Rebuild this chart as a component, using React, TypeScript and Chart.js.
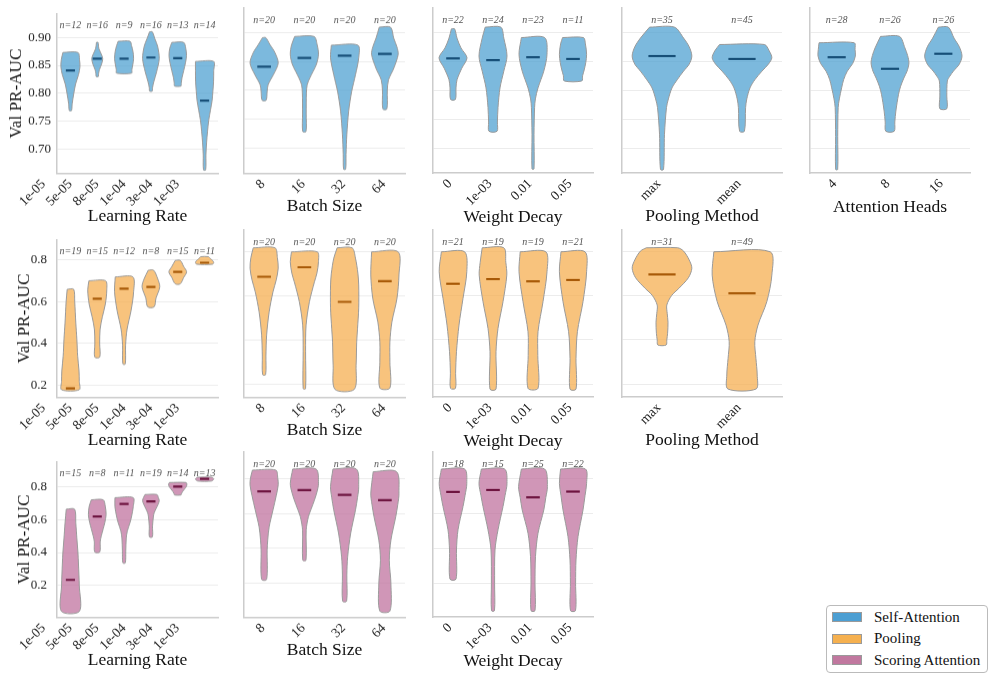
import React, { useEffect, useRef } from "react";
import { Chart, registerables } from "chart.js";
Chart.register(...registerables);

const SERIF = "'Liberation Serif', 'Times New Roman', serif";

// ---------- categories ----------
const LR_CATS = ["1e-05", "5e-05", "8e-05", "1e-04", "3e-04", "1e-03"];
const BS_CATS = ["8", "16", "32", "64"];
const WD_CATS = ["0", "1e-03", "0.01", "0.05"];
const PM_CATS = ["max", "mean"];
const AH_CATS = ["4", "8", "16"];

// ---------- Self-Attention ----------
const SA_LR_N = [12, 16, 9, 16, 13, 14];
const SA_LR_MED = [0.841, 0.862, 0.862, 0.864, 0.863, 0.787];
const SA_LR_SHAPE = [
  [[0.873, 0.28], [0.86, 0.34], [0.847, 0.355], [0.833, 0.3], [0.816, 0.19], [0.798, 0.12], [0.781, 0.065], [0.769, 0.04]],
  [[0.891, 0.03], [0.88, 0.06], [0.87, 0.15], [0.862, 0.205], [0.852, 0.16], [0.842, 0.08], [0.835, 0.05], [0.83, 0.04]],
  [[0.893, 0.22], [0.885, 0.28], [0.875, 0.33], [0.862, 0.355], [0.85, 0.32], [0.842, 0.29], [0.836, 0.28]],
  [[0.91, 0.05], [0.897, 0.15], [0.884, 0.25], [0.862, 0.31], [0.838, 0.21], [0.821, 0.11], [0.81, 0.06], [0.804, 0.05]],
  [[0.891, 0.22], [0.88, 0.3], [0.867, 0.325], [0.855, 0.29], [0.84, 0.22], [0.828, 0.16], [0.818, 0.13], [0.813, 0.12]],
  [[0.857, 0.34], [0.84, 0.34], [0.821, 0.335], [0.804, 0.31], [0.787, 0.28], [0.77, 0.22], [0.752, 0.155], [0.732, 0.11], [0.712, 0.075], [0.69, 0.05], [0.663, 0.04]],
];
const SA_BS_N = [20, 20, 20, 20];
const SA_BS_MED = [0.841, 0.856, 0.86, 0.863];
const SA_BS_SHAPE = [
  [[0.891, 0.04], [0.879, 0.145], [0.865, 0.27], [0.847, 0.35], [0.827, 0.23], [0.81, 0.1], [0.798, 0.075], [0.783, 0.05]],
  [[0.893, 0.24], [0.878, 0.32], [0.862, 0.35], [0.845, 0.3], [0.832, 0.21], [0.822, 0.14], [0.81, 0.07], [0.795, 0.05], [0.76, 0.045], [0.729, 0.04]],
  [[0.878, 0.33], [0.856, 0.35], [0.827, 0.27], [0.798, 0.175], [0.764, 0.1], [0.724, 0.055], [0.69, 0.035], [0.664, 0.025]],
  [[0.909, 0.14], [0.89, 0.22], [0.875, 0.3], [0.862, 0.33], [0.838, 0.22], [0.818, 0.09], [0.8, 0.06], [0.768, 0.05]],
];
const SA_WD_N = [22, 24, 23, 11];
const SA_WD_MED = [0.855, 0.852, 0.857, 0.854];
const SA_WD_SHAPE = [
  [[0.906, 0.04], [0.89, 0.1], [0.873, 0.2], [0.856, 0.35], [0.838, 0.22], [0.818, 0.1], [0.804, 0.075], [0.784, 0.06]],
  [[0.909, 0.195], [0.89, 0.27], [0.859, 0.35], [0.833, 0.27], [0.804, 0.175], [0.77, 0.125], [0.745, 0.11], [0.729, 0.1]],
  [[0.891, 0.29], [0.862, 0.35], [0.833, 0.27], [0.804, 0.125], [0.785, 0.06], [0.77, 0.04], [0.724, 0.025], [0.664, 0.025]],
  [[0.891, 0.26], [0.88, 0.31], [0.862, 0.34], [0.848, 0.32], [0.835, 0.28], [0.825, 0.24], [0.816, 0.22]],
];
const SA_PM_N = [35, 45];
const SA_PM_MED = [0.859, 0.854];
const SA_PM_SHAPE = [
  [[0.909, 0.155], [0.89, 0.27], [0.875, 0.34], [0.859, 0.373], [0.845, 0.34], [0.833, 0.27], [0.818, 0.19], [0.804, 0.125], [0.785, 0.08], [0.77, 0.056], [0.724, 0.031], [0.663, 0.019]],
  [[0.879, 0.28], [0.868, 0.34], [0.856, 0.373], [0.845, 0.33], [0.833, 0.25], [0.818, 0.16], [0.804, 0.1], [0.785, 0.06], [0.77, 0.045], [0.729, 0.03]],
];
const SA_AH_N = [28, 26, 26];
const SA_AH_MED = [0.857, 0.837, 0.863];
const SA_AH_SHAPE = [
  [[0.882, 0.33], [0.87, 0.345], [0.859, 0.35], [0.846, 0.3], [0.833, 0.2], [0.818, 0.13], [0.804, 0.093], [0.785, 0.05], [0.77, 0.028], [0.72, 0.02], [0.663, 0.019]],
  [[0.893, 0.177], [0.873, 0.28], [0.86, 0.33], [0.847, 0.355], [0.833, 0.32], [0.821, 0.26], [0.807, 0.2], [0.793, 0.16], [0.764, 0.11], [0.745, 0.09], [0.729, 0.078]],
  [[0.909, 0.093], [0.89, 0.2], [0.875, 0.3], [0.859, 0.35], [0.845, 0.3], [0.833, 0.19], [0.824, 0.12], [0.816, 0.075], [0.79, 0.065], [0.768, 0.065]],
];

// ---------- Pooling ----------
const P_LR_N = [19, 15, 12, 8, 15, 11];
const P_LR_MED = [0.186, 0.614, 0.662, 0.67, 0.742, 0.786];
const P_LR_SHAPE = [
  [[0.659, 0.12], [0.6, 0.16], [0.5, 0.2], [0.42, 0.24], [0.34, 0.27], [0.27, 0.32], [0.22, 0.33], [0.179, 0.33]],
  [[0.7, 0.31], [0.655, 0.355], [0.587, 0.3], [0.527, 0.19], [0.467, 0.105], [0.4, 0.09], [0.335, 0.093]],
  [[0.718, 0.33], [0.647, 0.355], [0.557, 0.26], [0.467, 0.11], [0.392, 0.056], [0.302, 0.045]],
  [[0.75, 0.1], [0.707, 0.26], [0.67, 0.33], [0.617, 0.19], [0.575, 0.12]],
  [[0.797, 0.093], [0.768, 0.22], [0.742, 0.33], [0.715, 0.22], [0.685, 0.093]],
  [[0.815, 0.14], [0.805, 0.22], [0.795, 0.31], [0.787, 0.34], [0.779, 0.3]],
];
const P_BS_N = [20, 20, 20, 20];
const P_BS_MED = [0.685, 0.728, 0.572, 0.665];
const P_BS_SHAPE = [
  [[0.815, 0.27], [0.77, 0.33], [0.723, 0.35], [0.67, 0.3], [0.617, 0.22], [0.527, 0.125], [0.422, 0.062], [0.33, 0.045], [0.245, 0.037]],
  [[0.797, 0.32], [0.752, 0.35], [0.7, 0.31], [0.662, 0.25], [0.572, 0.125], [0.467, 0.042], [0.35, 0.03], [0.182, 0.03]],
  [[0.815, 0.186], [0.768, 0.27], [0.7, 0.33], [0.647, 0.35], [0.544, 0.35], [0.45, 0.32], [0.392, 0.3], [0.287, 0.285], [0.179, 0.24]],
  [[0.797, 0.33], [0.692, 0.35], [0.587, 0.3], [0.482, 0.175], [0.392, 0.125], [0.3, 0.125], [0.185, 0.125]],
];
const P_WD_N = [21, 19, 19, 21];
const P_WD_MED = [0.653, 0.674, 0.664, 0.67];
const P_WD_SHAPE = [
  [[0.797, 0.29], [0.707, 0.345], [0.587, 0.25], [0.467, 0.15], [0.347, 0.087], [0.25, 0.065], [0.182, 0.062]],
  [[0.815, 0.27], [0.75, 0.32], [0.692, 0.345], [0.572, 0.25], [0.452, 0.125], [0.347, 0.075], [0.178, 0.075]],
  [[0.797, 0.32], [0.707, 0.35], [0.572, 0.25], [0.437, 0.125], [0.33, 0.12], [0.182, 0.125]],
  [[0.797, 0.3], [0.707, 0.34], [0.572, 0.25], [0.437, 0.11], [0.317, 0.075], [0.178, 0.075]],
];
const P_PM_N = [31, 49];
const P_PM_MED = [0.695, 0.61];
const P_PM_SHAPE = [
  [[0.815, 0.196], [0.8, 0.27], [0.76, 0.34], [0.723, 0.373], [0.68, 0.33], [0.632, 0.21], [0.6, 0.12], [0.557, 0.06], [0.52, 0.065], [0.48, 0.075], [0.43, 0.07], [0.4, 0.06], [0.377, 0.052]],
  [[0.797, 0.352], [0.692, 0.373], [0.572, 0.31], [0.467, 0.2], [0.392, 0.16], [0.317, 0.174], [0.242, 0.19], [0.179, 0.176]],
];

// ---------- Scoring Attention ----------
const S_LR_N = [15, 8, 11, 19, 14, 13];
const S_LR_MED = [0.234, 0.619, 0.695, 0.71, 0.8, 0.848];
const S_LR_SHAPE = [
  [[0.663, 0.155], [0.58, 0.2], [0.486, 0.24], [0.4, 0.28], [0.333, 0.3], [0.2, 0.33], [0.043, 0.335]],
  [[0.72, 0.22], [0.68, 0.3], [0.629, 0.33], [0.58, 0.28], [0.543, 0.22], [0.5, 0.15], [0.466, 0.11], [0.403, 0.093]],
  [[0.733, 0.34], [0.676, 0.34], [0.62, 0.28], [0.581, 0.22], [0.53, 0.12], [0.486, 0.08], [0.409, 0.063], [0.337, 0.045]],
  [[0.752, 0.22], [0.732, 0.28], [0.714, 0.31], [0.69, 0.26], [0.666, 0.19], [0.64, 0.12], [0.619, 0.093], [0.56, 0.06], [0.495, 0.056]],
  [[0.825, 0.31], [0.815, 0.34], [0.8, 0.32], [0.785, 0.25], [0.77, 0.18], [0.758, 0.14], [0.749, 0.12]],
  [[0.857, 0.27], [0.847, 0.34], [0.834, 0.26]],
];
const S_BS_N = [20, 20, 20, 20];
const S_BS_MED = [0.726, 0.733, 0.706, 0.676];
const S_BS_SHAPE = [
  [[0.847, 0.29], [0.8, 0.34], [0.762, 0.35], [0.7, 0.3], [0.619, 0.22], [0.523, 0.125], [0.45, 0.09], [0.39, 0.075], [0.223, 0.062]],
  [[0.853, 0.29], [0.771, 0.35], [0.72, 0.31], [0.676, 0.25], [0.62, 0.16], [0.581, 0.1], [0.505, 0.045], [0.333, 0.04]],
  [[0.853, 0.29], [0.752, 0.35], [0.69, 0.32], [0.619, 0.27], [0.486, 0.15], [0.352, 0.075], [0.25, 0.055], [0.099, 0.05]],
  [[0.838, 0.29], [0.714, 0.35], [0.65, 0.32], [0.581, 0.27], [0.447, 0.15], [0.333, 0.11], [0.2, 0.15], [0.043, 0.125]],
];
const S_WD_N = [18, 15, 25, 22];
const S_WD_MED = [0.722, 0.733, 0.691, 0.724];
const S_WD_SHAPE = [
  [[0.853, 0.29], [0.771, 0.345], [0.7, 0.3], [0.638, 0.25], [0.505, 0.125], [0.39, 0.087], [0.223, 0.075]],
  [[0.853, 0.29], [0.771, 0.35], [0.7, 0.3], [0.638, 0.25], [0.505, 0.125], [0.39, 0.05], [0.2, 0.04], [0.043, 0.037]],
  [[0.853, 0.29], [0.752, 0.36], [0.69, 0.32], [0.619, 0.27], [0.486, 0.125], [0.352, 0.062], [0.2, 0.05], [0.043, 0.05]],
  [[0.853, 0.31], [0.771, 0.34], [0.7, 0.3], [0.619, 0.25], [0.466, 0.125], [0.333, 0.075], [0.2, 0.065], [0.043, 0.062]],
];

// ---------- ticks ----------
const ROW1_TICKS = [0.7, 0.75, 0.8, 0.85, 0.9];
const ROW23_TICKS = [0.2, 0.4, 0.6, 0.8];

const SERIES_NAMES = ["Self-Attention", "Pooling", "Scoring Attention"];

// ---------- styling / layout ----------
const FAMILY = [
  { fill: "rgba(74,158,208,0.72)", med: "#174f78", legend: "#4c9fd3" },
  { fill: "rgba(245,172,75,0.72)", med: "#a85a08", legend: "#f5b04f" },
  { fill: "rgba(190,110,155,0.72)", med: "#6e1540", legend: "#c1789f" },
];
const COL_L = [57, 244, 433, 622, 810];
const COL_R = [218, 405, 593, 782, 970];
const ROW_T = [8, 230, 452];
const ROW_B = [173, 397, 617];
const ROW_Y = [
  { min: 0.657, max: 0.942, ticks: ROW1_TICKS, dec: 2, tickPad: 6, titlePad: 6.5 },
  { min: 0.143, max: 0.895, ticks: ROW23_TICKS, dec: 1, tickPad: 10, titlePad: 14.5 },
  { min: 0.007, max: 0.95, ticks: ROW23_TICKS, dec: 1, tickPad: 10, titlePad: 14.5 },
];
const TITLE_FS = 17.5;
const TICK_FS = 13.5;

const XKINDS = {
  LR: { cats: LR_CATS, title: "Learning Rate", off: 43, shift: -27 },
  BS: { cats: BS_CATS, title: "Batch Size", off: 33, shift: -1 },
  WD: { cats: WD_CATS, title: "Weight Decay", off: 44.5, shift: -3 },
  PM: { cats: PM_CATS, title: "Pooling Method", off: 43.5, shift: -3 },
  AH: { cats: AH_CATS, title: "Attention Heads", off: 34.5, shift: -2 },
};

const PANELS = [
  { row: 0, col: 0, kind: "LR", shapes: SA_LR_SHAPE, med: SA_LR_MED, n: SA_LR_N },
  { row: 0, col: 1, kind: "BS", shapes: SA_BS_SHAPE, med: SA_BS_MED, n: SA_BS_N },
  { row: 0, col: 2, kind: "WD", shapes: SA_WD_SHAPE, med: SA_WD_MED, n: SA_WD_N },
  { row: 0, col: 3, kind: "PM", shapes: SA_PM_SHAPE, med: SA_PM_MED, n: SA_PM_N },
  { row: 0, col: 4, kind: "AH", shapes: SA_AH_SHAPE, med: SA_AH_MED, n: SA_AH_N },
  { row: 1, col: 0, kind: "LR", shapes: P_LR_SHAPE, med: P_LR_MED, n: P_LR_N },
  { row: 1, col: 1, kind: "BS", shapes: P_BS_SHAPE, med: P_BS_MED, n: P_BS_N },
  { row: 1, col: 2, kind: "WD", shapes: P_WD_SHAPE, med: P_WD_MED, n: P_WD_N },
  { row: 1, col: 3, kind: "PM", shapes: P_PM_SHAPE, med: P_PM_MED, n: P_PM_N },
  { row: 2, col: 0, kind: "LR", shapes: S_LR_SHAPE, med: S_LR_MED, n: S_LR_N },
  { row: 2, col: 1, kind: "BS", shapes: S_BS_SHAPE, med: S_BS_MED, n: S_BS_N },
  { row: 2, col: 2, kind: "WD", shapes: S_WD_SHAPE, med: S_WD_MED, n: S_WD_N },
];

function Panel({ spec }: { spec: any }) {
  const ref = useRef<HTMLCanvasElement | null>(null);
  const { row, col, kind, shapes, med, n } = spec;
  const xk = (XKINDS as any)[kind];
  const cats: string[] = xk.cats;
  const L = COL_L[col], R = COL_R[col], T = ROW_T[row], B = ROW_B[row];
  const yW = col === 0 ? L : 40;
  const padTop = 8, padRight = 6;
  const xH = xk.off + (TITLE_FS * 1.2) / 2;
  const width = R - L + yW + padRight;
  const height = B - T + padTop + xH;
  const left = L - yW;
  const top = T - padTop;
  const ry = ROW_Y[row];
  const fam = FAMILY[row];

  useEffect(() => {
    const datasets: any[] = [];
    shapes.forEach((sh: number[][], i: number) => {
      const l = sh.map(([v, w]) => ({ x: i - w, y: v }));
      const r = sh.slice().reverse().map(([v, w]) => ({ x: i + w, y: v }));
      datasets.push({
        data: [...l, ...r, l[0]],
        showLine: true,
        fill: "shape",
        backgroundColor: fam.fill,
        borderColor: "#9a9a9a",
        borderWidth: 1,
        pointRadius: 0,
        tension: 0.3,
        order: 2,
      });
    });
    med.forEach((m: number, i: number) => {
      datasets.push({
        data: [{ x: i - 0.17, y: m }, { x: i + 0.17, y: m }],
        showLine: true,
        fill: false,
        borderColor: fam.med,
        borderWidth: 2.2,
        pointRadius: 0,
        order: 0,
      });
    });
    const nPlugin = {
      id: "nlabels",
      afterDatasetsDraw(chart: any) {
        const ctx = chart.ctx;
        const xs = chart.scales.x;
        ctx.save();
        ctx.font = `italic 10px ${SERIF}`;
        ctx.fillStyle = "#555";
        ctx.textAlign = "center";
        ctx.textBaseline = "middle";
        n.forEach((c: number, i: number) => {
          ctx.fillText(`n=${c}`, xs.getPixelForValue(i), chart.chartArea.top + 12);
        });
        ctx.restore();
      },
    };
    const chart = new Chart(ref.current as HTMLCanvasElement, {
      type: "scatter",
      data: { datasets },
      plugins: [nPlugin],
      options: {
        animation: false,
        responsive: false,
        devicePixelRatio: 1,
        layout: { padding: { left: 0, top: padTop, right: padRight, bottom: 0 } },
        plugins: { legend: { display: false }, tooltip: { enabled: false } },
        scales: {
          x: {
            type: "linear",
            min: -0.5,
            max: cats.length - 0.5,
            afterBuildTicks: (s: any) => {
              s.ticks = cats.map((_, i) => ({ value: i }));
            },
            afterFit: (s: any) => {
              s.height = xH;
            },
            ticks: {
              autoSkip: false,
              minRotation: 45,
              maxRotation: 45,
              padding: 3,
              labelOffset: xk.shift,
              color: "#222",
              font: { family: SERIF, size: TICK_FS },
              callback: (v: any) => cats[Math.round(v)] ?? "",
            },
            grid: { display: false, drawTicks: false },
            border: { color: "#cccccc", width: 1.5 },
            title: {
              display: true,
              text: xk.title,
              color: "#111",
              font: { family: SERIF, size: TITLE_FS },
              padding: 0,
            },
          },
          y: {
            type: "linear",
            min: ry.min,
            max: ry.max,
            afterBuildTicks: (s: any) => {
              s.ticks = ry.ticks.map((v) => ({ value: v }));
            },
            afterFit: (s: any) => {
              s.width = yW;
            },
            ticks: {
              display: col === 0,
              padding: ry.tickPad,
              color: "#222",
              font: { family: SERIF, size: 13 },
              callback: (v: any) => Number(v).toFixed(ry.dec),
            },
            grid: { color: "#ececec", lineWidth: 1, drawTicks: false },
            border: { color: "#cccccc", width: 1.5 },
            title: {
              display: col === 0,
              text: "Val PR-AUC",
              color: "#111",
              font: { family: SERIF, size: 17 },
              padding: { top: ry.titlePad, bottom: 0 },
            },
          },
        },
      } as any,
    });
    return () => chart.destroy();
  }, []);

  return (
    <canvas
      ref={ref}
      width={width}
      height={height}
      style={{ position: "absolute", left, top, width, height }}
    />
  );
}

function Legend() {
  return (
    <div
      style={{
        position: "absolute",
        left: 826,
        top: 605,
        width: 160,
        height: 66,
        border: "1px solid #bbbbbb",
        borderRadius: 4,
        background: "white",
        fontFamily: SERIF,
        fontSize: 15,
        color: "#111",
      }}
    >
      {SERIES_NAMES.map((name, i) => (
        <div
          key={name}
          style={{ position: "absolute", left: 0, top: 1 + i * 21.7, height: 20, display: "flex", alignItems: "center" }}
        >
          <div
            style={{
              marginLeft: 5,
              width: 30,
              height: 10,
              background: FAMILY[i].legend,
              border: "1px solid #9a9a9a",
              boxSizing: "border-box",
            }}
          />
          <span style={{ marginLeft: 12, whiteSpace: "nowrap" }}>{name}</span>
        </div>
      ))}
    </div>
  );
}

export default function App() {
  return (
    <div style={{ position: "absolute", left: 0, top: 0, width: 997, height: 683, background: "white", overflow: "hidden" }}>
      {PANELS.map((p, i) => (
        <Panel key={i} spec={p} />
      ))}
      <Legend />
    </div>
  );
}
